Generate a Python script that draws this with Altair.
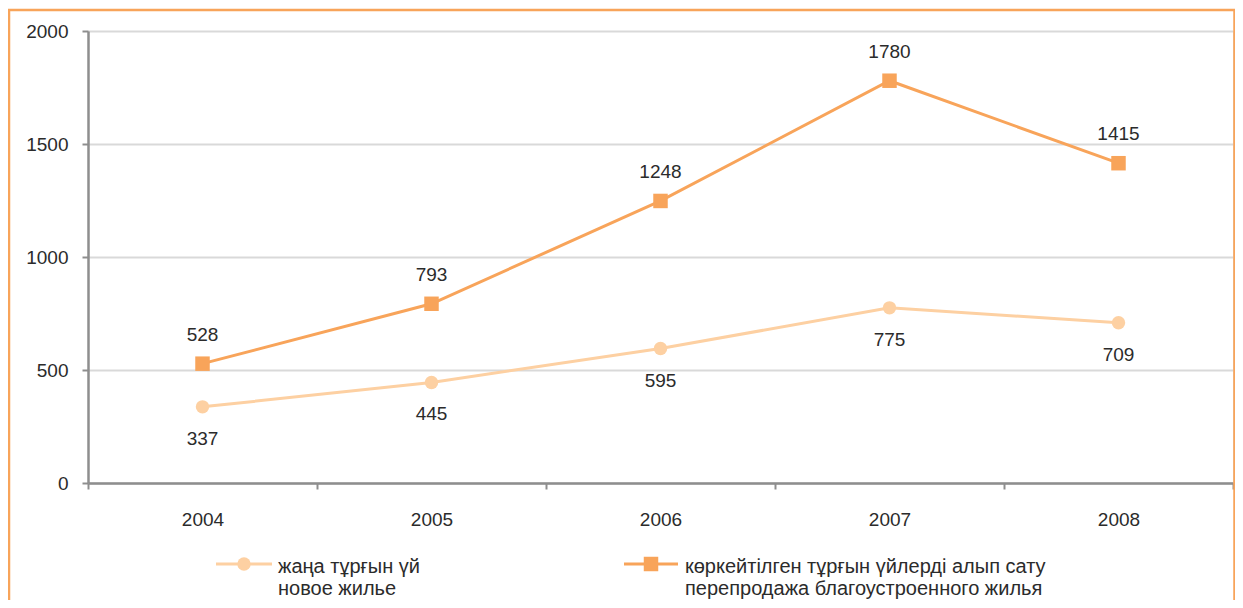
import altair as alt
import pandas as pd

years = ["2004", "2005", "2006", "2007", "2008"]
new_housing = [337, 445, 595, 775, 709]
resale = [528, 793, 1248, 1780, 1415]
series = ["new", "resale"]
legend_labels = ["жаңа тұрғын үй|новое жилье",
                 "көркейтілген тұрғын үйлерді алып сату|перепродажа благоустроенного жилья"]
y_ticks = [0, 500, 1000, 1500, 2000]

LIGHT = "#FDD0A2"
ORANGE = "#F8A45A"
GREY = "#8e8e8e"
TXT = "#2b2b2b"
FONT = "Liberation Sans"
NUM_SIZE = 19
LEG_SIZE = 20

rows = []
for y, a, b in zip(years, new_housing, resale):
    rows.append({"year": y, "value": a, "series": series[0]})
    rows.append({"year": y, "value": b, "series": series[1]})
df = pd.DataFrame(rows)

x_enc = alt.X("year:N", bandPosition=0.5,
              scale=alt.Scale(type="band", paddingInner=0, paddingOuter=0),
              axis=alt.Axis(title=None, tickBand="extent", tickSize=6, tickColor=GREY,
                            tickWidth=2, domainColor=GREY, domainWidth=2.5, labelAngle=0,
                            labelPadding=21, labelFontSize=NUM_SIZE, labelColor=TXT, labelFont=FONT,
                            grid=False))
y_enc = alt.Y("value:Q", scale=alt.Scale(domain=[0, 2000], nice=False),
              axis=alt.Axis(title=None, values=y_ticks, format="d", grid=True, gridColor="#d9d9d9",
                            gridWidth=2, tickSize=6, tickColor=GREY, tickWidth=2,
                            domainColor=GREY, domainWidth=2.5, labelPadding=14,
                            labelFontSize=NUM_SIZE, labelColor=TXT, labelFont=FONT))
color_enc = alt.Color("series:N", scale=alt.Scale(domain=series, range=[LIGHT, ORANGE]), legend=None)

base = alt.Chart(df).encode(x=x_enc, y=y_enc, color=color_enc)

lines = base.mark_line(strokeWidth=3)
points = base.mark_point(filled=True, opacity=1).encode(
    shape=alt.Shape("series:N", scale=alt.Scale(domain=series, range=["circle", "square"]), legend=None),
    size=alt.Size("series:N", scale=alt.Scale(domain=series, range=[180, 210]), legend=None),
)
lab_new = base.transform_filter(alt.datum.series == series[0]).mark_text(
    dy=32, fontSize=NUM_SIZE, font=FONT, color=TXT).encode(text="value:Q", color=alt.value(TXT))
lab_res = base.transform_filter(alt.datum.series == series[1]).mark_text(
    dy=-29, fontSize=NUM_SIZE, font=FONT, color=TXT).encode(text="value:Q", color=alt.value(TXT))

# border around the whole figure
one = pd.DataFrame({"k": [0]})
border = alt.Chart(one).mark_rect(fill="transparent", stroke=ORANGE, strokeWidth=2.5).encode(
    x=alt.value(-79), x2=alt.value(1146.5), y=alt.value(-21), y2=alt.value(640))

# manual legend
leg_df = pd.DataFrame({"series": series, "label": legend_labels})
legend_layers = []
for i, (x0, x1, xt, shp, col, sz) in enumerate([
        (128, 184, 190, "circle", LIGHT, 180),
        (536, 590, 597, "square", ORANGE, 210)]):
    d = alt.Chart(leg_df).transform_filter(alt.datum.series == series[i])
    legend_layers.append(d.mark_rule(strokeWidth=3, color=col).encode(
        x=alt.value(x0), x2=alt.value(x1), y=alt.value(533)))
    legend_layers.append(d.mark_point(filled=True, opacity=1, shape=shp, size=sz, color=col).encode(
        x=alt.value((x0 + x1) / 2), y=alt.value(533)))
    legend_layers.append(d.mark_text(align="left", baseline="middle", lineBreak="|",
                                     lineHeight=22, fontSize=LEG_SIZE, font=FONT, color=TXT).encode(
        x=alt.value(xt), y=alt.value(536), text="label:N"))

chart = alt.layer(border, lines, points, lab_new, lab_res, *legend_layers).properties(
    width=1145, height=452, autosize="none",
    padding={"left": 80, "top": 23, "right": 2, "bottom": 117},
).configure_view(stroke=None).configure(background="white")

chart.save("out.html", embed_options={"renderer": "svg", "actions": False})
